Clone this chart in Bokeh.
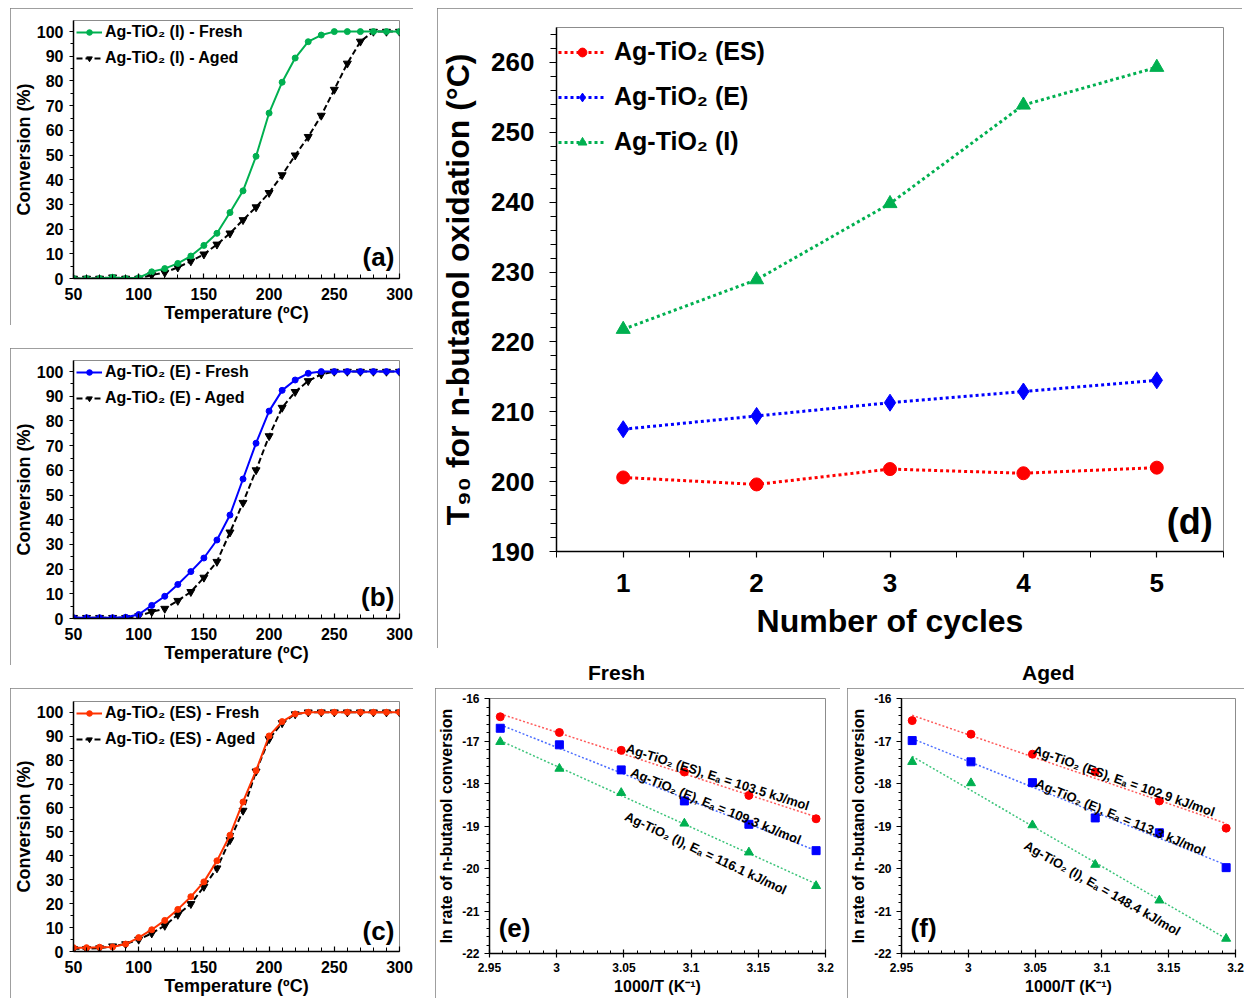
import numpy as np
from bokeh.plotting import figure
from bokeh.models import (Range1d, FixedTicker, Legend, LegendItem, Label, Div,
                          CustomJSTickFormatter)
from bokeh.layouts import row, column
from bokeh.embed import file_html
from bokeh.resources import INLINE

FONT = "Liberation Sans"

# ---------------- data ----------------
temperature = [50, 60, 70, 80, 90, 100, 110, 120, 130, 140, 150, 160, 170, 180,
               190, 200, 210, 220, 230, 240, 250, 260, 270, 280, 290, 300]

a_fresh = [0, 0, 0, 0.5, 0, 0.3, 2.7, 4, 6.1, 9.1, 13.4, 18.3, 26.7, 35.5,
           49.5, 67, 79.5, 89.3, 95.9, 98.6, 100, 100, 100, 100, 100, 100]
a_aged = [0, 0, 0, 0.5, 0, 0, 1.4, 2.4, 4.5, 7, 9.8, 13.8, 18.3, 23.7,
          28.9, 34.7, 41.9, 49.9, 57.4, 66, 76.5, 87.1, 96, 100, 100, 100]

b_fresh = [0.3, 0.3, 0.3, 0.3, 0.5, 1.6, 5.3, 9, 13.8, 19, 24.5, 31.8, 41.9, 56.5,
           71, 84, 92.4, 96.6, 99.3, 100, 100, 100, 100, 100, 100, 100]
b_aged = [0.3, 0.3, 0.3, 0.3, 0.3, 1, 2.7, 4, 7.2, 10.8, 16.6, 23, 34.9, 46.9,
          60.1, 73.9, 85.4, 91.8, 96.2, 98.9, 100, 100, 100, 100, 100, 100]

c_fresh = [1.6, 1.6, 1.8, 1.9, 3.1, 5.8, 9.1, 13, 17.6, 22.9, 29.1, 37.9, 48.6, 62.5,
           75.6, 90.1, 96.1, 99.3, 100, 100, 100, 100, 100, 100, 100, 100]
c_aged = [1.1, 1.1, 1.4, 2.2, 3.1, 5, 7.6, 10.8, 15.4, 19.9, 27.1, 34.8, 46.6, 58.9,
          75.3, 88.8, 95.5, 99.2, 100, 100, 100, 100, 100, 100, 100, 100]

cycles = [1, 2, 3, 4, 5]
t90_es = [200.6, 199.6, 201.8, 201.2, 202.0]
t90_e = [207.5, 209.4, 211.3, 212.9, 214.5]
t90_i = [221.8, 228.9, 239.8, 253.9, 259.3]

inv_t = [2.958, 3.002, 3.048, 3.095, 3.143, 3.193]
fresh_es = [-16.43, -16.80, -17.22, -17.73, -18.28, -18.83]
fresh_e = [-16.70, -17.09, -17.68, -18.41, -18.96, -19.58]
fresh_i = [-17.02, -17.65, -18.22, -18.94, -19.62, -20.41]
aged_es = [-16.52, -16.84, -17.31, -17.73, -18.41, -19.05]
aged_e = [-16.99, -17.49, -17.98, -18.81, -19.16, -19.98]
aged_i = [-17.49, -17.99, -18.98, -19.91, -20.75, -21.65]
fresh_ea = [103.5, 109.3, 116.1]
aged_ea = [102.9, 113.3, 148.4]
catalysts = ["ES", "E", "I"]

# ---------------- styling helpers ----------------
BOX = {"outline": "1px solid #7f7f7f", "outline-offset": "-1px"}
RED, BLUE, GREEN = "#ff0000", "#0000ff", "#00b050"


def new_fig(w, h, xr, yr, left, right, top, bottom, **kw):
    p = figure(width=w, height=h, x_range=Range1d(*xr), y_range=Range1d(*yr),
               output_backend="svg", toolbar_location=None,
               min_border_left=left, min_border_right=right,
               min_border_top=top, min_border_bottom=bottom, styles=BOX, **kw)
    p.grid.visible = False
    p.outline_line_color = "#8c8c8c"
    p.outline_line_width = 1
    p.background_fill_color = "white"
    p.border_fill_color = "white"
    return p


def style_axes(p, tick_size, label_size):
    for ax in (p.xaxis[0], p.yaxis[0]):
        ax.axis_line_color = "black"
        ax.axis_line_width = 1.5
        ax.major_tick_line_color = "black"
        ax.minor_tick_line_color = "black"
        ax.major_tick_line_width = 1.2
        ax.minor_tick_line_width = 1
        ax.major_label_text_font = FONT
        ax.major_label_text_font_style = "bold"
        ax.major_label_text_font_size = tick_size
        ax.major_label_text_color = "black"
        ax.axis_label_text_font = FONT
        ax.axis_label_text_font_style = "bold"
        ax.axis_label_text_font_size = label_size
        ax.axis_label_text_color = "black"


def conv_panel(h, fresh, aged, color, fresh_lbl, aged_lbl, tag, top, bottom):
    p = new_fig(403, h, (50, 300), (0, 104.5), 60, 14, top, bottom)
    style_axes(p, "16px", "18px")
    p.xaxis.axis_label = "Temperature (ºC)"
    p.yaxis.axis_label = "Conversion (%)"
    p.xaxis.ticker = FixedTicker(ticks=[50, 100, 150, 200, 250, 300],
                                 minor_ticks=list(range(50, 301, 10)))
    p.yaxis.ticker = FixedTicker(ticks=list(range(0, 101, 10)),
                                 minor_ticks=list(range(5, 100, 10)))
    p.xaxis.major_tick_in = 5
    p.xaxis.major_tick_out = 0
    p.xaxis.minor_tick_in = 4
    p.xaxis.minor_tick_out = 0
    p.xaxis.major_label_standoff = 9
    p.xaxis.axis_label_standoff = 0
    p.yaxis.major_tick_in = 0
    p.yaxis.major_tick_out = 4
    p.yaxis.minor_tick_in = 0
    p.yaxis.minor_tick_out = 3
    p.yaxis.major_label_standoff = 6
    p.yaxis.axis_label_standoff = 0

    ra = p.line(temperature, aged, line_color="black", line_width=2, line_dash="6 3")
    sa = p.scatter(temperature, aged, marker="inverted_triangle", size=8,
                   fill_color="black", line_color="black")
    rf = p.line(temperature, fresh, line_color=color, line_width=2)
    sf = p.scatter(temperature, fresh, marker="circle", size=6,
                   fill_color=color, line_color=color)
    leg = Legend(items=[LegendItem(label=fresh_lbl, renderers=[rf, sf]),
                        LegendItem(label=aged_lbl, renderers=[ra, sa])],
                 location="top_left", margin=3, padding=3, spacing=8,
                 glyph_width=26, glyph_height=14, label_standoff=3,
                 background_fill_alpha=0, border_line_color=None,
                 label_text_font=FONT, label_text_font_style="bold",
                 label_text_font_size="16px", label_text_color="black")
    p.add_layout(leg)
    p.add_layout(Label(x=296, y=2.5, text=tag, text_align="right",
                       text_baseline="bottom", text_font=FONT,
                       text_font_style="bold", text_font_size="26px",
                       text_color="black"))
    return p


pa = conv_panel(317, a_fresh, a_aged, GREEN, "Ag-TiO₂ (I) - Fresh",
                "Ag-TiO₂ (I) - Aged", "(a)", 12, 45)
pb = conv_panel(317, b_fresh, b_aged, BLUE, "Ag-TiO₂ (E) - Fresh",
                "Ag-TiO₂ (E) - Aged", "(b)", 12, 45)
pc = conv_panel(310, c_fresh, c_aged, "#ff3300", "Ag-TiO₂ (ES) - Fresh",
                "Ag-TiO₂ (ES) - Aged", "(c)", 13, 43)

# ---------------- panel (d) ----------------
pd_ = new_fig(805, 640, (0.5, 5.5), (190, 265), 116, 19, 19, 97, margin=(0, 0, 0, 2))
style_axes(pd_, "26px", "32px")
pd_.xaxis.axis_label = "Number of cycles"
pd_.yaxis.axis_label = "T₉₀ for n-butanol oxidation (°C)"
pd_.xaxis.ticker = FixedTicker(ticks=cycles, minor_ticks=[0.5, 1.5, 2.5, 3.5, 4.5, 5.5])
pd_.yaxis.ticker = FixedTicker(ticks=list(range(190, 261, 10)),
                               minor_ticks=list(range(190, 265, 2)))
pd_.xaxis.major_tick_in = 0
pd_.xaxis.major_tick_out = 6
pd_.xaxis.minor_tick_in = 0
pd_.xaxis.minor_tick_out = 6
pd_.xaxis.major_label_standoff = 16
pd_.xaxis.axis_label_standoff = 8
pd_.yaxis.major_tick_in = 0
pd_.yaxis.major_tick_out = 7
pd_.yaxis.minor_tick_in = 0
pd_.yaxis.minor_tick_out = 6
pd_.yaxis.major_label_standoff = 15
pd_.yaxis.axis_label_standoff = 12

d_items = []
for ys, col, mk, sz, lbl in [(t90_es, RED, "circle", 13, "Ag-TiO₂ (ES)"),
                             (t90_e, BLUE, "diamond", 17, "Ag-TiO₂ (E)"),
                             (t90_i, GREEN, "triangle", 14, "Ag-TiO₂ (I)")]:
    r1 = pd_.line(cycles, ys, line_color=col, line_width=3, line_dash="3 3")
    r2 = pd_.scatter(cycles, ys, marker=mk, size=sz, fill_color=col, line_color=col)
    d_items.append(LegendItem(label=lbl, renderers=[r1, r2]))
leg_d = Legend(items=d_items, location=(2, 395), margin=0, padding=4, spacing=16,
               glyph_width=48, glyph_height=22, label_standoff=8,
               background_fill_alpha=0, border_line_color=None,
               label_text_font=FONT, label_text_font_style="bold",
               label_text_font_size="25px", label_text_color="black")
pd_.add_layout(leg_d)
pd_.add_layout(Label(x=5.42, y=191.3, text="(d)", text_align="right",
                     text_baseline="bottom", text_font=FONT, text_font_style="bold",
                     text_font_size="36px", text_color="black"))

# ---------------- panels (e), (f) ----------------
fmt = CustomJSTickFormatter(code="return String(Math.round(tick*100)/100);")


def arr_panel(w, series, eas, tag, label_pos, right):
    p = new_fig(w, 310, (2.95, 3.2), (-22, -16), 50, right, 10, 45)
    style_axes(p, "12px", "16px")
    p.xaxis.axis_label = "1000/T (K⁻¹)"
    p.yaxis.axis_label = "ln rate of n-butanol conversion"
    p.xaxis.ticker = FixedTicker(ticks=[2.95, 3.0, 3.05, 3.1, 3.15, 3.2],
                                 minor_ticks=[2.95 + 0.01 * i for i in range(26)])
    p.yaxis.ticker = FixedTicker(ticks=[-22, -21, -20, -19, -18, -17, -16],
                                 minor_ticks=[-22 + 0.2 * i for i in range(31)])
    p.xaxis.formatter = fmt
    p.yaxis.formatter = fmt
    p.xaxis.major_tick_in = 4
    p.xaxis.major_tick_out = 4
    p.xaxis.minor_tick_in = 3
    p.xaxis.minor_tick_out = 0
    p.xaxis.major_label_standoff = 5
    p.xaxis.axis_label_standoff = 3
    p.yaxis.major_tick_in = 0
    p.yaxis.major_tick_out = 5
    p.yaxis.minor_tick_in = 0
    p.yaxis.minor_tick_out = 3
    p.yaxis.major_label_standoff = 5
    p.yaxis.axis_label_standoff = 4

    styles = [(RED, "#ff5a5a", "circle", 8), (BLUE, "#4a6cff", "square", 8),
              (GREEN, "#3cc47a", "triangle", 9)]
    for ys, (mc, lc, mk, sz), cat, ea, (lx, ly, ang) in zip(series, styles, catalysts,
                                                          eas, label_pos):
        k, b = np.polyfit(inv_t, ys, 1)
        xs = [inv_t[0], inv_t[-1]]
        p.line(xs, [k * x + b for x in xs], line_color=lc, line_width=1.5,
               line_dash="2 2")
        p.scatter(inv_t, ys, marker=mk, size=sz, fill_color=mc, line_color=mc)
        p.add_layout(Label(x=lx, y=ly, text=f"Ag-TiO₂ ({cat}), Eₐ = {ea} kJ/mol",
                           angle=ang, angle_units="deg", text_align="left",
                           text_baseline="alphabetic", text_font=FONT,
                           text_font_style="bold", text_font_size="13px",
                           text_color="black"))
    p.add_layout(Label(x=2.9568, y=-21.75, text=tag, text_align="left",
                       text_baseline="bottom", text_font=FONT, text_font_style="bold",
                       text_font_size="26px", text_color="black"))
    return p


pe = arr_panel(405, [fresh_es, fresh_e, fresh_i], fresh_ea, "(e)",
               [(3.052, -17.16, -17.8), (3.0556, -17.72, -22.2),
                (3.0513, -18.75, -25.2)], 15)
pf = arr_panel(397, [aged_es, aged_e, aged_i], aged_ea, "(f)",
               [(3.0489, -17.2, -19.2), (3.051, -17.98, -22.3),
                (3.0426, -19.43, -29.7)], 9)


def title_div(text, w, left):
    return Div(text=(f'<div style="margin-left:{left}px;margin-top:13px;'
                     f'font-family:{FONT};font-weight:bold;font-size:21px;'
                     f'line-height:24px;color:black">{text}</div>'),
               width=w, height=40, margin=0)


div_fresh = title_div("Fresh", 405, 153)
div_aged = title_div("Aged", 397, 175)

left = column(pa, pb, pc, spacing=23)
bottom_right = row(column(div_fresh, pe, spacing=0), column(div_aged, pf, spacing=0),
                   spacing=7)
right = column(pd_, bottom_right, spacing=0)
root = row(left, right, spacing=22, margin=(8, 0, 0, 10))

open("out.html", "w").write(file_html(root, INLINE))
